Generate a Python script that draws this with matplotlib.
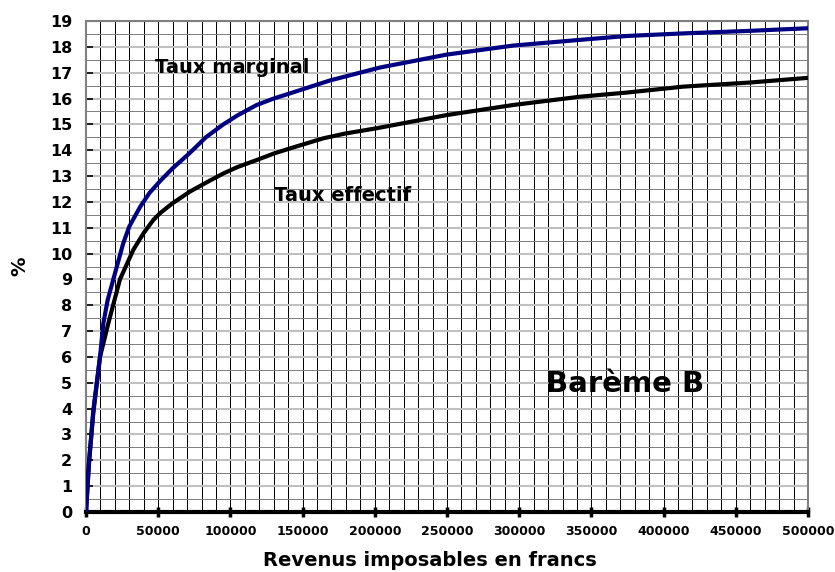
import matplotlib
matplotlib.use("Agg")
import matplotlib.pyplot as plt
from matplotlib.ticker import MultipleLocator, FuncFormatter

plt.rcParams['font.family'] = ['DejaVu Sans']
plt.rcParams['font.weight'] = 'bold'

# Taux marginal (blue)
x_marg = [0, 2000, 5000, 9700, 12000, 15000, 18900, 25800, 30000, 37400, 44000, 51200,
          60000, 72000, 83000, 95100, 105000, 118200, 130000, 141300, 169000,
          203600, 249800, 295900, 342100, 374400, 413600, 460000, 500000]
y_marg = [0, 1.8, 3.9, 6.0, 7.3, 8.2, 9.0, 10.4, 11.05, 11.8, 12.35, 12.8,
          13.3, 13.9, 14.5, 15.0, 15.35, 15.75, 16.0, 16.2, 16.7,
          17.2, 17.7, 18.05, 18.27, 18.42, 18.52, 18.62, 18.72]

# Taux effectif (black)
x_eff = [0, 2000, 5000, 9700, 15450, 23500, 32800, 40000, 46600, 51200, 60000,
         72000, 85000, 95100, 105000, 118200, 130000, 141300, 164300, 180000,
         201300, 249800, 295900, 342100, 374400, 413600, 460000, 500000]
y_eff = [0, 1.9, 3.8, 6.0, 7.3, 9.0, 10.15, 10.8, 11.3, 11.56, 11.95,
         12.4, 12.8, 13.1, 13.35, 13.62, 13.87, 14.07, 14.46, 14.65,
         14.85, 15.36, 15.75, 16.07, 16.23, 16.46, 16.62, 16.8]

x_ticks = [0, 50000, 100000, 150000, 200000, 250000, 300000, 350000, 400000, 450000, 500000]
y_ticks = list(range(0, 20))

fig = plt.figure(figsize=(8.35, 5.72), dpi=100)
ax = fig.add_axes([86/835, 60/572, 722/835, 491/572])

ax.set_xlim(0, 500000)
ax.set_ylim(0, 19)

# grid
ax.xaxis.set_minor_locator(MultipleLocator(10000))
ax.yaxis.set_minor_locator(MultipleLocator(0.5))
ax.grid(which='minor', axis='x', color='black', linewidth=0.72)
ax.grid(which='major', axis='x', color='black', linewidth=0.72)
ax.grid(which='minor', axis='y', color='#808080', linewidth=0.72)
ax.grid(which='major', axis='y', color='#c0c0c0', linewidth=1.5)
ax.set_axisbelow(True)

ax.plot(x_eff, y_eff, color='black', linewidth=3, solid_capstyle='butt',
        solid_joinstyle='round', zorder=3)
ax.plot(x_marg, y_marg, color='#000080', linewidth=3, solid_capstyle='butt',
        solid_joinstyle='round', zorder=3)

ax.set_xticks(x_ticks)
ax.set_yticks(y_ticks)
ax.xaxis.set_major_formatter(FuncFormatter(lambda v, p: f"{int(v)}"))
ax.tick_params(axis='x', which='major', direction='inout', length=7, width=2.5,
               labelsize=9, pad=6)
ax.tick_params(axis='x', which='minor', length=0)
ax.tick_params(axis='y', which='major', direction='in', length=5, width=1.2,
               labelsize=11.5, pad=10)
ax.tick_params(axis='y', which='minor', length=0)
for lab in ax.get_xticklabels() + ax.get_yticklabels():
    lab.set_fontweight('bold')

for s in ['left', 'right', 'top']:
    ax.spines[s].set_color('#808080')
    ax.spines[s].set_linewidth(1.5)
ax.spines['bottom'].set_color('black')
ax.spines['bottom'].set_linewidth(3)

ax.set_xlabel('Revenus imposables en francs', fontsize=14, fontweight='bold')
ax.xaxis.label.set_verticalalignment('center')
ax.xaxis.set_label_coords((430 - 86) / 722, (512 - 560) / 491)
ax.set_ylabel('%', fontsize=14, fontweight='bold', labelpad=15)

ax.text(101000, 17.2, 'Taux marginal', fontsize=14, fontweight='bold',
        ha='center', va='center', zorder=4)
ax.text(178000, 12.23, 'Taux effectif', fontsize=14, fontweight='bold',
        ha='center', va='center', zorder=4)
ax.text(373300, 4.95, 'Barème B', fontsize=21, fontweight='bold',
        ha='center', va='center', zorder=4)

fig.savefig('out.png', dpi=100)
